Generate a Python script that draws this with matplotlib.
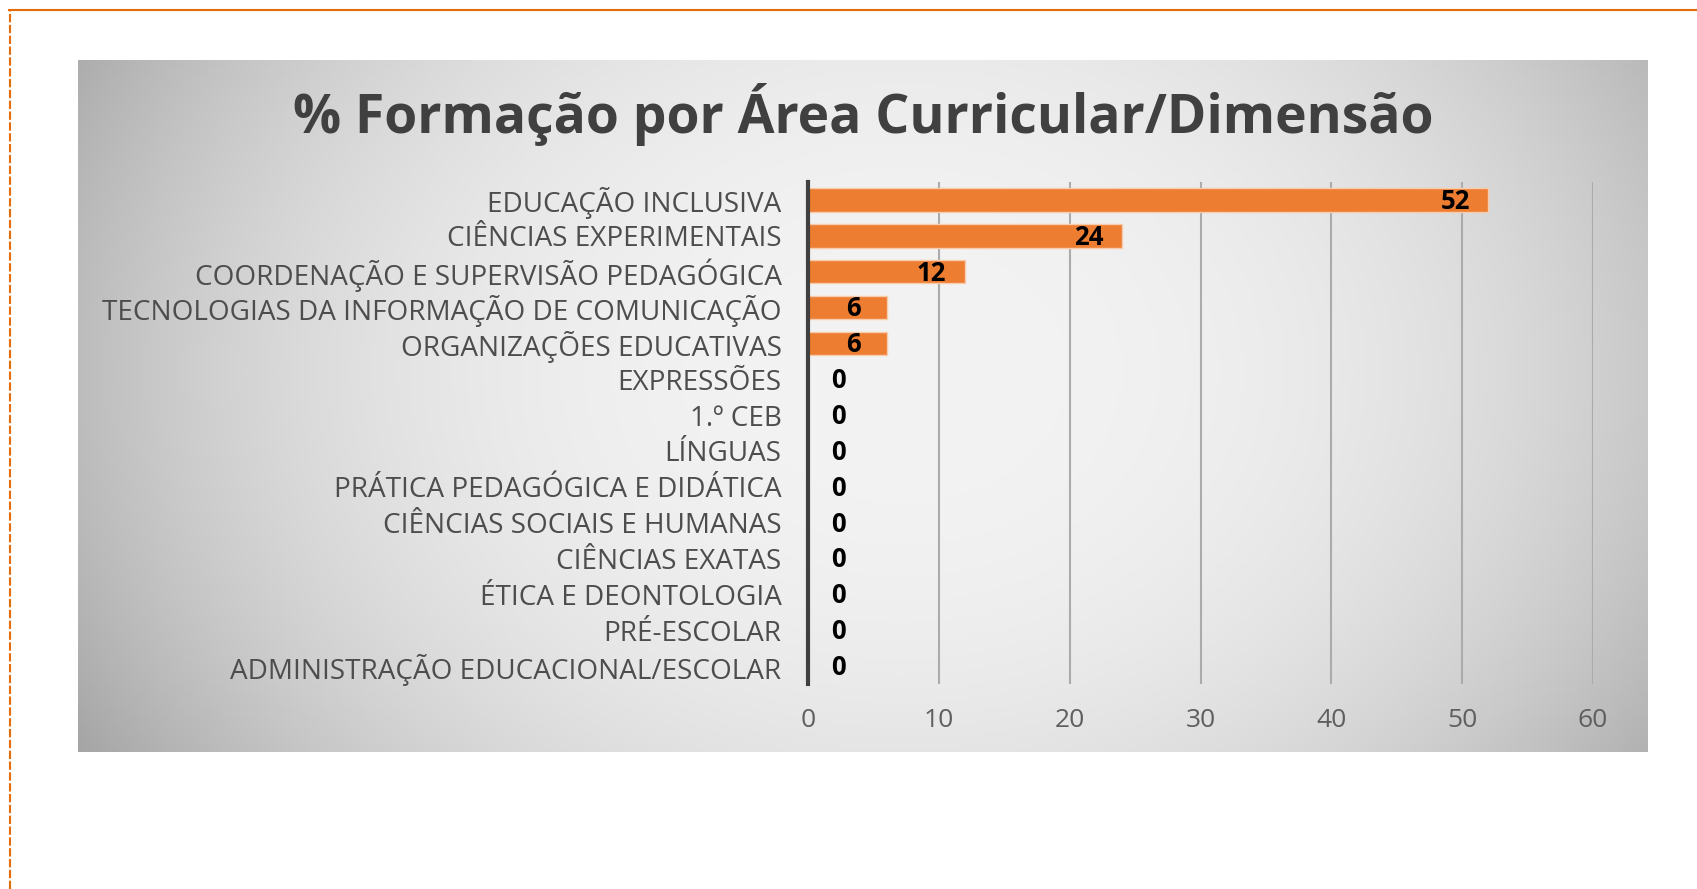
import numpy as np
import matplotlib
matplotlib.use('Agg')
import matplotlib.pyplot as plt
from matplotlib.lines import Line2D

# dados do grafico (de cima para baixo)
categorias = ['EDUCAÇÃO INCLUSIVA', 'CIÊNCIAS EXPERIMENTAIS', 'COORDENAÇÃO E SUPERVISÃO PEDAGÓGICA',
              'TECNOLOGIAS DA INFORMAÇÃO DE COMUNICAÇÃO', 'ORGANIZAÇÕES EDUCATIVAS', 'EXPRESSÕES',
              '1.º CEB', 'LÍNGUAS', 'PRÁTICA PEDAGÓGICA E DIDÁTICA', 'CIÊNCIAS SOCIAIS E HUMANAS',
              'CIÊNCIAS EXATAS', 'ÉTICA E DEONTOLOGIA', 'PRÉ-ESCOLAR', 'ADMINISTRAÇÃO EDUCACIONAL/ESCOLAR']
valores = [52, 24, 12, 6, 6, 0, 0, 0, 0, 0, 0, 0, 0, 0]
ticks_x = [0, 10, 20, 30, 40, 50, 60]

W, H = 1697, 889
fig = plt.figure(figsize=(W / 100, H / 100), dpi=100)
fig.patch.set_facecolor('white')

# moldura laranja (linha de cima continua, esquerda tracejada)
fig.add_artist(Line2D([9 / W, 1], [1 - 10 / H, 1 - 10 / H], color='#E46C0A', lw=1.5))
fig.add_artist(Line2D([10 / W, 10 / W], [0, 1 - 10 / H], color='#E46C0A', lw=1.5, ls=(0, (4, 1.2))))

# fundo cinzento com gradiente
bx0, bx1, by0, by1 = 78, 1648, 60, 752
bg = fig.add_axes([bx0 / W, 1 - by1 / H, (bx1 - bx0) / W, (by1 - by0) / H])
gx, gy = np.meshgrid(np.linspace(-1, 1, 400), np.linspace(-1, 1, 200))
r = np.sqrt(((gx - 0.05) / 1.0) ** 2 + ((gy + 0.1) / 1.8) ** 2)
img = 243 - 48 * np.clip(r, 0, 1.3) ** 2.5
bg.imshow(np.dstack([img, img, img]).astype(np.uint8), aspect='auto', extent=[0, 1, 0, 1])
bg.set_axis_off()

# titulo
fig.text(863 / W, 1 - 115 / H, '% Formação por Área Curricular/Dimensão', ha='center', va='center',
         fontsize=38.5, fontweight='bold', color='#404040', family='Open Sans')

# grafico de barras
ax = fig.add_axes([808 / W, 1 - 684 / H, (1593 - 808) / W, (684 - 182) / H])
ax.set_facecolor('none')
y = np.arange(len(categorias))
ax.barh(y, valores, height=0.66, color='#ED7D31', edgecolor='#F8CBAD', linewidth=1)
ax.set_ylim(len(categorias) - 0.5, -0.5)
ax.set_xlim(0, 60)
ax.set_xticks(ticks_x)
ax.set_yticks(y)
ax.set_yticklabels(categorias, family='Open Sans', fontsize=20.1, color='#4D4D4D')
ax.tick_params(axis='y', length=0, pad=19)
ax.tick_params(axis='x', length=0, pad=17, labelsize=19, labelcolor='#5F5F5F')
for lab in ax.get_xticklabels():
    lab.set_family('Open Sans')
ax.grid(axis='x', color='#ABABAB', lw=1.5)
ax.set_axisbelow(True)
for s in ['top', 'right', 'bottom']:
    ax.spines[s].set_visible(False)
ax.spines['left'].set_color('#404040')
ax.spines['left'].set_linewidth(3)

# etiquetas de valores
for i, v in enumerate(valores):
    if v > 0:
        ax.annotate(str(v), (v, i), xytext=(-24, -1), textcoords='offset points', ha='center', va='center',
                    fontsize=18.5, fontweight='bold', color='black', family='Open Sans')
    else:
        ax.annotate(str(v), (v, i), xytext=(22, -1), textcoords='offset points', ha='center', va='center',
                    fontsize=18.5, fontweight='bold', color='black', family='Open Sans')

fig.savefig('out.png', dpi=100)
